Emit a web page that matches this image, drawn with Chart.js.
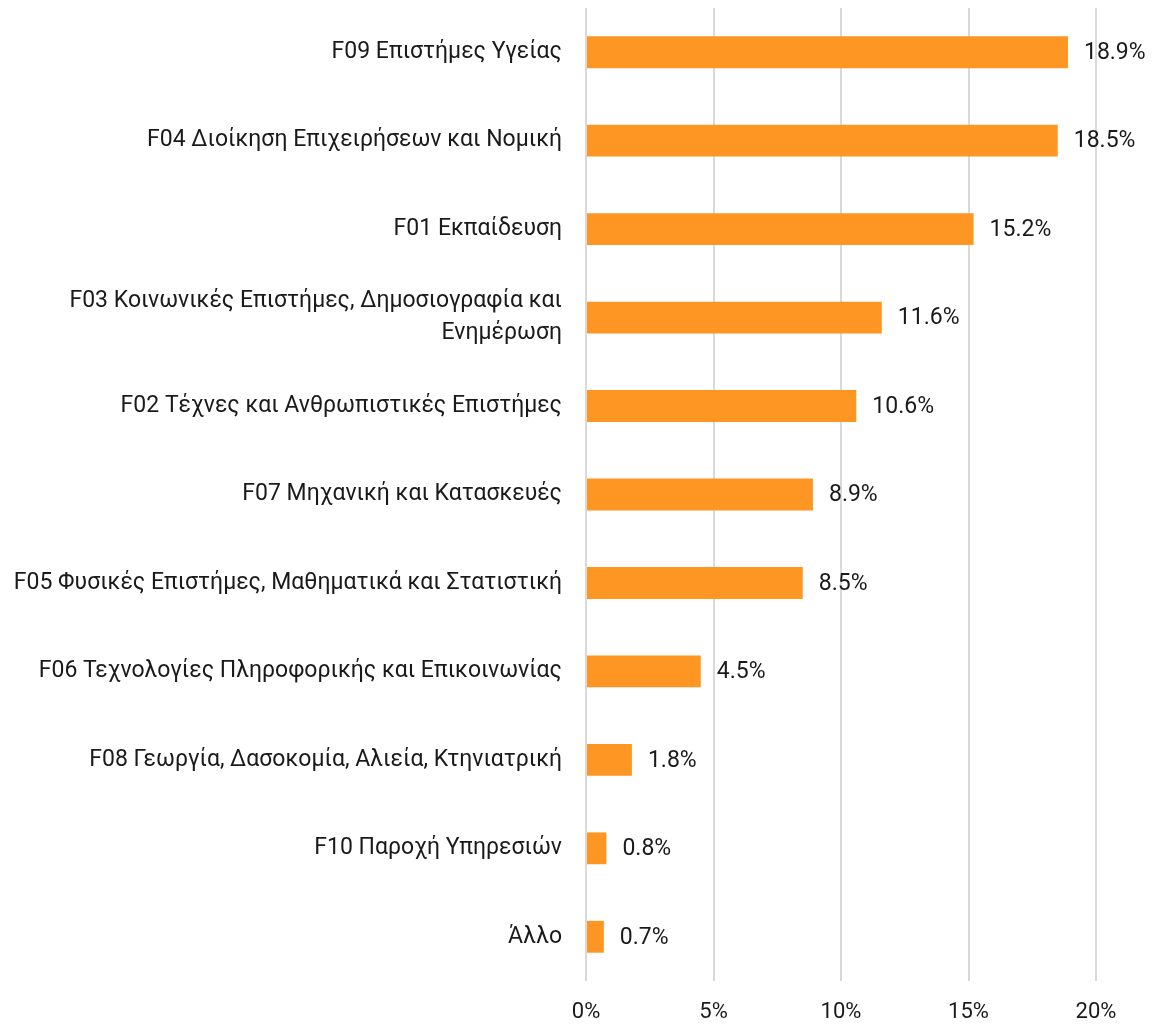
<!DOCTYPE html>
<html>
<head>
<meta charset="utf-8">
<script src="https://cdn.jsdelivr.net/npm/chart.js@4/dist/chart.umd.min.js"></script>
<style>
  html, body { margin: 0; padding: 0; background: #fff; }
  #wrap { width: 1158px; height: 1025px; position: relative; }
</style>
</head>
<body>
<div id="wrap"><canvas id="fieldChart"></canvas></div>
<script>
// Πεδία σπουδών (ίδια σειρά με το γράφημα, από πάνω προς τα κάτω)
const categories = [
    'F09 Επιστήμες Υγείας',
    'F04 Διοίκηση Επιχειρήσεων και Νομική',
    'F01 Εκπαίδευση',
    ['F03 Κοινωνικές Επιστήμες, Δημοσιογραφία και', 'Ενημέρωση'],
    'F02 Τέχνες και Ανθρωπιστικές Επιστήμες',
    'F07 Μηχανική και Κατασκευές',
    'F05 Φυσικές Επιστήμες, Μαθηματικά και Στατιστική',
    'F06 Τεχνολογίες Πληροφορικής και Επικοινωνίας',
    'F08 Γεωργία, Δασοκομία, Αλιεία, Κτηνιατρική',
    'F10 Παροχή Υπηρεσιών',
    'Άλλο'
];
const shares = [18.9, 18.5, 15.2, 11.6, 10.6, 8.9, 8.5, 4.5, 1.8, 0.8, 0.7];
const xTicks = [0, 5, 10, 15, 20];

const FONT = 'Roboto, "DejaVu Sans", sans-serif';

// Ετικέτες τιμών δεξιά από κάθε μπάρα
const valueLabels = {
    id: 'valueLabels',
    afterDatasetsDraw(chart) {
        const ctx = chart.ctx;
        const meta = chart.getDatasetMeta(0);
        ctx.save();
        ctx.fillStyle = '#1a1a1a';
        ctx.font = '23px ' + FONT;
        ctx.textAlign = 'left';
        ctx.textBaseline = 'middle';
        meta.data.forEach((bar, i) => {
            ctx.fillText(shares[i].toFixed(1) + '%', bar.x + 16, bar.y + 1);
        });
        ctx.restore();
    }
};

const ctx = document.getElementById('fieldChart').getContext('2d');
new Chart(ctx, {
    type: 'bar',
    data: {
        labels: categories,
        datasets: [{
            data: shares,
            backgroundColor: '#FD9622',
            borderWidth: 0,
            categoryPercentage: 1,
            barPercentage: 0.36
        }]
    },
    options: {
        indexAxis: 'y',
        responsive: true,
        maintainAspectRatio: false,
        animation: false,
        layout: { padding: { top: 8, right: 62, bottom: 0, left: 0 } },
        plugins: {
            legend: { display: false },
            tooltip: { enabled: false }
        },
        scales: {
            x: {
                min: 0,
                max: 20,
                afterBuildTicks: (scale) => { scale.ticks = xTicks.map(v => ({ value: v })); },
                afterFit: (scale) => { scale.height = 44; scale.paddingLeft = 0; scale.paddingRight = 0; },
                grid: { color: '#d9d9d9', lineWidth: 2, drawTicks: false },
                border: { display: false },
                ticks: {
                    color: '#1a1a1a',
                    padding: 18,
                    font: { family: FONT, size: 22 },
                    callback: (v) => v + '%'
                }
            },
            y: {
                afterFit: (scale) => { scale.width = 586; scale.paddingTop = 0; scale.paddingBottom = 0; },
                grid: { display: false, drawTicks: false },
                border: { display: false },
                ticks: {
                    color: '#1a1a1a',
                    padding: 24,
                    font: { family: FONT, size: 23, lineHeight: 1.4 }
                }
            }
        }
    },
    plugins: [valueLabels]
});
</script>
</body>
</html>
